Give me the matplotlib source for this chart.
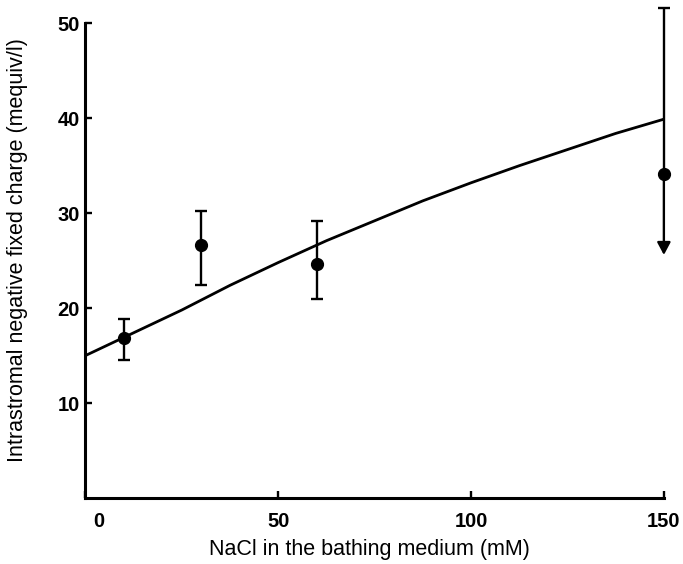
import matplotlib
matplotlib.use("Agg")
import matplotlib.pyplot as plt
import matplotlib.transforms as mtransforms

# Data
nacl = [10, 30, 60]
charge = [16.9, 26.7, 24.7]
err_low = [14.5, 22.4, 21.0]
err_high = [18.9, 30.2, 29.2]

# Point at 150 mM (upper bar with cap, lower bar as arrow)
nacl_last = 150
charge_last = 34.1
last_high = 51.6
last_arrow = 25.6

# Fitted curve
curve_x = [0, 12.5, 25, 37.5, 50, 62.5, 75, 87.5, 100, 112.5, 125, 137.5, 150]
curve_y = [15.0, 17.4, 19.8, 22.4, 24.8, 27.1, 29.2, 31.3, 33.2, 35.0, 36.7, 38.4, 39.9]

xticks = [0, 50, 100, 150]
yticks = [10, 20, 30, 40, 50]

plt.rcParams['font.family'] = ['Liberation Sans', 'DejaVu Sans']

fig = plt.figure(figsize=(6.83, 5.64), dpi=100)
ax = fig.add_axes([0.125, 0.117, 0.847, 0.8417])

ax.plot(curve_x, curve_y, color='black', lw=2.0, zorder=2)

yerr = [[c - l for c, l in zip(charge, err_low)], [h - c for c, h in zip(charge, err_high)]]
ax.errorbar(nacl, charge, yerr=yerr, fmt='o', color='black', ms=8.5, elinewidth=1.7,
            capsize=4.5, capthick=1.7, zorder=3, clip_on=False)

ax.errorbar([nacl_last], [charge_last], yerr=[[0], [last_high - charge_last]], fmt='o',
            color='black', ms=8.5, elinewidth=1.7, capsize=4.5, capthick=1.7, zorder=3,
            clip_on=False)
ax.annotate('', xy=(nacl_last, last_arrow), xytext=(nacl_last, charge_last),
            arrowprops=dict(arrowstyle='-|>,head_length=0.75,head_width=0.4',
                            color='black', lw=1.7, shrinkA=0, shrinkB=0))

ax.set_xlim(0, 150)
ax.set_ylim(0, 50)
ax.set_xticks(xticks)
ax.set_yticks(yticks)
ax.set_xticklabels([str(t) for t in xticks])
ax.set_yticklabels([str(t) for t in yticks])

for s in ['top', 'right']:
    ax.spines[s].set_visible(False)
for s in ['left', 'bottom']:
    ax.spines[s].set_linewidth(2.2)

ax.tick_params(direction='in', length=5, width=1.7, labelsize=14.5)
for lab in ax.get_xticklabels() + ax.get_yticklabels():
    lab.set_fontweight('bold')
ax.tick_params(axis='x', pad=10)
ax.tick_params(axis='y', pad=4)

# shift the "0" label slightly right, as in the reference
lab0 = ax.get_xticklabels()[0]
lab0.set_transform(lab0.get_transform() + mtransforms.ScaledTranslation(13 / 100, 0, fig.dpi_scale_trans))

ax.set_xlabel('NaCl in the bathing medium (mM)', fontsize=15.5)
ax.set_ylabel('Intrastromal negative fixed charge (mequiv/l)', fontsize=15.5)
ax.xaxis.set_label_coords(0.5, -0.1, transform=None)
ax.xaxis.label.set_position((0.5, 0))
ax.xaxis.set_label_coords((370 - 85.4) / 578.6, -(550 - 498) / 475.0)
ax.yaxis.set_label_coords(-(85.4 - 18) / 578.6, (498 - 250) / 475.0)
ax.xaxis.label.set_va('center')
ax.yaxis.label.set_va('center')

fig.savefig('out.png', dpi=100)
